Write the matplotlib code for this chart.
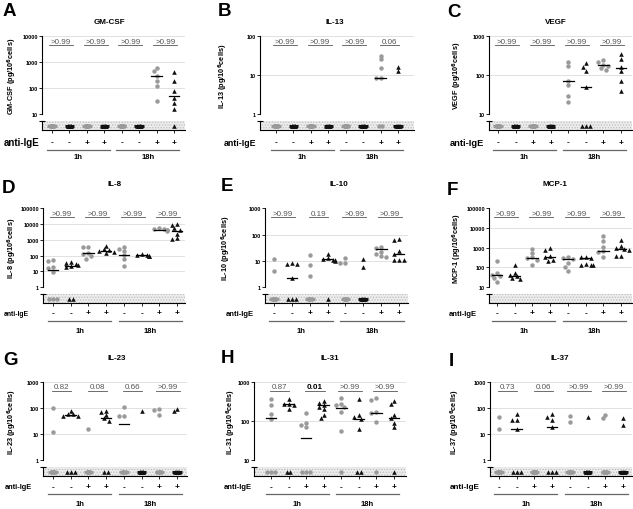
import numpy as np
import matplotlib.pyplot as plt
import matplotlib.transforms as mtransforms
from matplotlib.patches import Rectangle

plt.rcParams['font.family'] = ['Liberation Sans', 'DejaVu Sans']
plt.rcParams['mathtext.default'] = 'bf'
plt.rcParams['hatch.linewidth'] = 0.5

W, H = 633, 510

signs = ['-', '-', '+', '+', '-', '-', '+', '+']
times = ['1h', '18h']

# values above detection per group, count below detection, median (None = below detection)
gmcsf_vals = [[], [], [], [], [], [], [600, 450, 300, 180, 115, 32], [415, 185, 77, 43, 26, 15.6]]
gmcsf_bld = [6, 6, 6, 6, 6, 6, 0, 1]
gmcsf_med = [None, None, None, None, None, None, 290, 49]
gmcsf_p = ['>0.99', '>0.99', '>0.99', '>0.99']

il13_vals = [[], [], [], [], [], [], [31, 25, 15.5, 8.5, 8.2], [16, 12.3]]
il13_bld = [6, 6, 6, 6, 6, 6, 2, 5]
il13_med = [None, None, None, None, None, None, 8.5, None]
il13_p = ['>0.99', '>0.99', '>0.99', '0.06']

vegf_vals = [[], [], [], [], [215, 170, 72, 57, 29, 20], [200, 165, 130, 48],
             [240, 210, 185, 175, 150, 135], [340, 250, 160, 126, 70, 39]]
vegf_bld = [6, 6, 6, 6, 0, 3, 0, 0]
vegf_med = [None, None, None, None, 70, 48, 178, 155]
vegf_p = ['>0.99', '>0.99', '>0.99', '>0.99']

il8_vals = [[50, 45, 20, 17, 9], [40, 35, 30, 26, 22, 18], [350, 330, 150, 130, 90, 65],
            [380, 260, 220, 190, 170, 150], [350, 260, 200, 115, 60, 22], [125, 115, 105, 100, 95, 90],
            [6000, 5200, 4600, 4300, 4000, 3800], [10000, 9500, 6000, 4500, 2400, 1300, 1100]]
il8_bld = [3, 2, 0, 0, 0, 0, 0, 0]
il8_med = [12.6, 23, 148, 210, 112, 110, 4500, 3900]
il8_p = ['>0.99', '>0.99', '>0.99', '>0.99']

il10_vals = [[11.5, 4], [8, 7.6, 7.4, 2.2], [16.5, 6.7, 2.6], [19, 12.5, 11.5, 11, 10.5, 10],
             [13, 8.3, 8.2], [11.5, 5.9], [34, 32, 22, 19, 15, 14], [70, 61, 23, 19, 11, 11, 11]]
il10_bld = [5, 3, 4, 1, 4, 5, 0, 0]
il10_med = [None, 2.2, None, 11.8, None, None, 29, 18]
il10_p = ['>0.99', '0.19', '>0.99', '>0.99']

mcp1_vals = [[210, 50, 42, 35, 28, 17], [140, 50, 40, 35, 28, 25], [900, 550, 320, 300, 250, 130],
             [950, 800, 380, 330, 250, 200], [330, 300, 270, 160, 110, 65], [350, 320, 300, 150, 140, 130, 130],
             [4200, 2300, 1100, 700, 600, 330], [2600, 1300, 1000, 900, 800, 400, 380]]
mcp1_bld = [0, 0, 0, 0, 0, 0, 0, 0]
mcp1_med = [39, 37, 310, 330, 275, 290, 720, 900]
mcp1_p = ['>0.99', '>0.99', '>0.99', '>0.99']

il23_vals = [[100, 12.4], [80, 60, 60, 50, 50], [16], [80, 70, 55, 40, 32], [105, 50, 49], [80],
             [88, 83, 56], [95, 75]]
il23_bld = [5, 3, 5, 2, 4, 6, 4, 5]
il23_med = [None, 54, None, 43, 24, None, None, None]
il23_p = ['0.82', '0.08', '0.66', '>0.99']

il31_vals = [[370, 260, 150, 110], [375, 275, 265, 260, 200], [160, 90, 80, 70],
             [330, 290, 260, 230, 200, 140, 120], [380, 270, 250, 230, 175, 55], [375, 140, 130, 115, 63],
             [400, 350, 170, 160, 95], [330, 280, 140, 120, 90, 72]]
il31_bld = [3, 2, 3, 0, 1, 2, 1, 1]
il31_med = [122, 270, 36, 260, 220, 115, 165, 122]
il31_p = ['0.87', '0.01', '>0.99', '>0.99']

il37_vals = [[44, 16], [57, 36, 36, 15], [], [57, 47, 36, 19], [49, 30], [45], [54, 40], [40, 23]]
il37_bld = [5, 3, 6, 3, 5, 6, 5, 5]
il37_med = [None, 15, None, 19, None, None, None, None]
il37_p = ['0.73', '0.06', '>0.99', '>0.99']

# layout in pixels: row, axis left/right, first/last category, ylabel x, title x, letter x/y, anti-IgE right/width
panels = [
    ('A', 'GM-CSF', (1, 4), gmcsf_vals, gmcsf_bld, gmcsf_med, gmcsf_p, 0, (42, 185, 52, 174), 12, 109, (3, 3), (40, 36)),
    ('B', 'IL-13', (0, 2), il13_vals, il13_bld, il13_med, il13_p, 0, (260, 414, 276, 398), 223, 335, (218, 3), (256, 32)),
    ('C', 'VEGF', (1, 3), vegf_vals, vegf_bld, vegf_med, vegf_p, 0, (489, 632, 498, 621), 457, 556, (447, 4), (484, 34)),
    ('D', 'IL-8', (0, 5), il8_vals, il8_bld, il8_med, il8_p, 1, (43, 185, 53, 177), 12, 115, (2, 180), (29, 25)),
    ('E', 'IL-10', (0, 3), il10_vals, il10_bld, il10_med, il10_p, 1, (265, 408, 274, 399), 226, 339, (221, 178), (254, 28)),
    ('F', 'MCP-1', (1, 5), mcp1_vals, mcp1_bld, mcp1_med, mcp1_p, 1, (489, 632, 497, 621), 457, 555, (447, 182), (477, 28)),
    ('G', 'IL-23', (0, 3), il23_vals, il23_bld, il23_med, il23_p, 2, (43, 187, 53, 177), 12, 117, (3, 352), (32, 27)),
    ('H', 'IL-31', (1, 3), il31_vals, il31_bld, il31_med, il31_p, 2, (254, 406, 271, 394), 231, 330, (221, 350), (252, 28)),
    ('I', 'IL-37', (0, 3), il37_vals, il37_bld, il37_med, il37_p, 2, (490, 632, 499, 623), 455, 560, (449, 353), (480, 30)),
]

rows_main = [(37, 115), (209.5, 288), (383, 461)]
rows_strip = [(122, 131), (295, 304), (468, 477)]
rows_title = [22.5, 185, 358.5]
rows_sign = [143, 314, 487.5]
rows_line = [150.5, 322, 495]
rows_time = [157.5, 331.5, 505]

GRAY = '#9a9a9a'
BLACK = '#111111'


def rect(l, r, t, b):
    return [l / W, 1 - b / H, (r - l) / W, (b - t) / H]


def swarm(vals, ppd, ppu, d=3.6):
    # spread close values side by side
    offs = np.zeros(len(vals))
    placed = []
    for i in np.argsort(vals)[::-1]:
        y = np.log10(vals[i]) * ppd
        for k in [0, -1, 1, -2, 2, -3, 3]:
            x = k * d * 0.7
            if all((x - px) ** 2 + (y - py) ** 2 >= d ** 2 for px, py in placed):
                break
        placed.append((x, y))
        offs[i] = x / ppu
    return offs


fig = plt.figure(figsize=(W / 100, H / 100), dpi=100)

for (letter, name, dec, vals, bld, med, pvals, row, box, ylx, tx, lpos, lab) in panels:
    l, r, c1, c8 = box
    ppu = (c8 - c1) / 7
    xlim = (1 - (c1 - l) / ppu, 8 + (r - c8) / ppu)
    t, b = rows_main[row]
    st, sb = rows_strip[row]
    lo, hi = dec
    ppd = (b - t) / (hi - lo)

    ax = fig.add_axes(rect(l, r, t, b))
    ax.set_yscale('log')
    ax.set_ylim(10 ** lo, 10 ** hi)
    ax.set_xlim(*xlim)
    ticks = [10 ** k for k in range(lo, hi + 1)]
    ax.yaxis.set_major_locator(plt.FixedLocator(ticks))
    ax.yaxis.set_minor_locator(plt.NullLocator())
    ax.set_yticklabels([str(v) for v in ticks], fontsize=4, weight='bold')
    ax.set_xticks([])
    for s in ['top', 'right', 'bottom']:
        ax.spines[s].set_visible(False)
    ax.spines['left'].set_linewidth(0.8)
    ax.tick_params(axis='y', length=2, width=0.6, pad=1)
    ax.grid(axis='y', color='#dcdcdc', lw=0.6)
    ax.set_axisbelow(True)

    axs = fig.add_axes(rect(l, r, st, sb))
    axs.set_xlim(*xlim)
    axs.set_ylim(0, 1)
    axs.add_patch(Rectangle((0, 0), 1, 1, transform=axs.transAxes, facecolor='#ececec',
                            edgecolor='#b8b8b8', hatch='......', lw=0, zorder=0))
    for s in ['top', 'right']:
        axs.spines[s].set_visible(False)
    axs.spines['left'].set_linewidth(0.8)
    axs.spines['bottom'].set_linewidth(0.8)
    axs.set_xticks(range(1, 9))
    axs.set_xticklabels([])
    axs.tick_params(axis='x', length=2.2, width=0.6)
    axs.set_yticks([1])
    axs.set_yticklabels([])
    axs.tick_params(axis='y', length=4, width=0.8, direction='inout')

    for i in range(8):
        x = i + 1
        mk, col, ms = ('o', GRAY, 3.2) if i % 2 == 0 else ('^', BLACK, 3.3)
        v = np.array(vals[i], dtype=float)
        if len(v):
            ax.plot(x + swarm(v, ppd, ppu), v, ls='none', marker=mk, color=col, ms=ms,
                    mew=0, clip_on=False, zorder=3)
        n = bld[i]
        if n:
            sp = 3.8 if n <= 3 else 3.6 / (n - 1)
            xs = x + (np.arange(n) - (n - 1) / 2) * sp / ppu
            axs.plot(xs, np.full(n, 0.5), ls='none', marker=mk, color=col, ms=ms,
                     mew=0, clip_on=False, zorder=3)
            if n > 3:
                axs.plot([x - 0.27, x + 0.27], [0.5, 0.5], color=col, lw=2.2,
                         solid_capstyle='butt', zorder=3)
        if med[i] is not None:
            ax.plot([x - 0.3, x + 0.3], [med[i], med[i]], color='black', lw=0.9, zorder=4)

    # p values over each pair
    tr = mtransforms.blended_transform_factory(ax.transData, ax.transAxes)
    hgt = b - t
    for j, p in enumerate(pvals):
        xc = 2 * j + 1.5
        sig = not p.startswith('>') and float(p) < 0.05
        ax.text(xc, 1 - 5 / hgt, p, transform=tr, ha='center', va='center', fontsize=5.8,
                color='black' if sig else '#555555', weight='bold' if sig else 'normal')
        half = 2.4 * len(p) / ppu
        ax.plot([xc - half, xc + half], [1 - 8.8 / hgt] * 2, transform=tr, color='#555555',
                lw=0.6, clip_on=False)

    # anti-IgE row and time groups
    trf = mtransforms.blended_transform_factory(axs.transData, fig.transFigure)
    for i, s in enumerate(signs):
        axs.text(i + 1, 1 - rows_sign[row] / H, s, transform=trf, ha='center', va='center',
                 fontsize=6, weight='bold')
    for k, tl in enumerate(times):
        a, z = 4 * k + 1, 4 * k + 4
        axs.plot([a - 0.3, z + 0.3], [1 - rows_line[row] / H] * 2, transform=trf, color='#666666',
                 lw=0.9, clip_on=False)
        axs.text((a + z) / 2, 1 - rows_time[row] / H, tl, transform=trf, ha='center', va='center',
                 fontsize=5.5, weight='bold')
    fig.text(lab[0] / W, 1 - rows_sign[row] / H, 'anti-IgE', ha='right', va='center',
             fontsize=lab[1] / 3.67 * 0.72, weight='bold')

    fig.text(ylx / W, 1 - (t + b) / 2 / H, name + ' (pg/10$^{6}$cells)', rotation=90,
             ha='center', va='center', fontsize=5.3, weight='bold')
    fig.text(tx / W, 1 - rows_title[row] / H, name, ha='center', va='center', fontsize=5.8, weight='bold')
    fig.text(lpos[0] / W, 1 - lpos[1] / H, letter, ha='left', va='top', fontsize=13.5, weight='bold')

fig.savefig('out.png', dpi=100)
